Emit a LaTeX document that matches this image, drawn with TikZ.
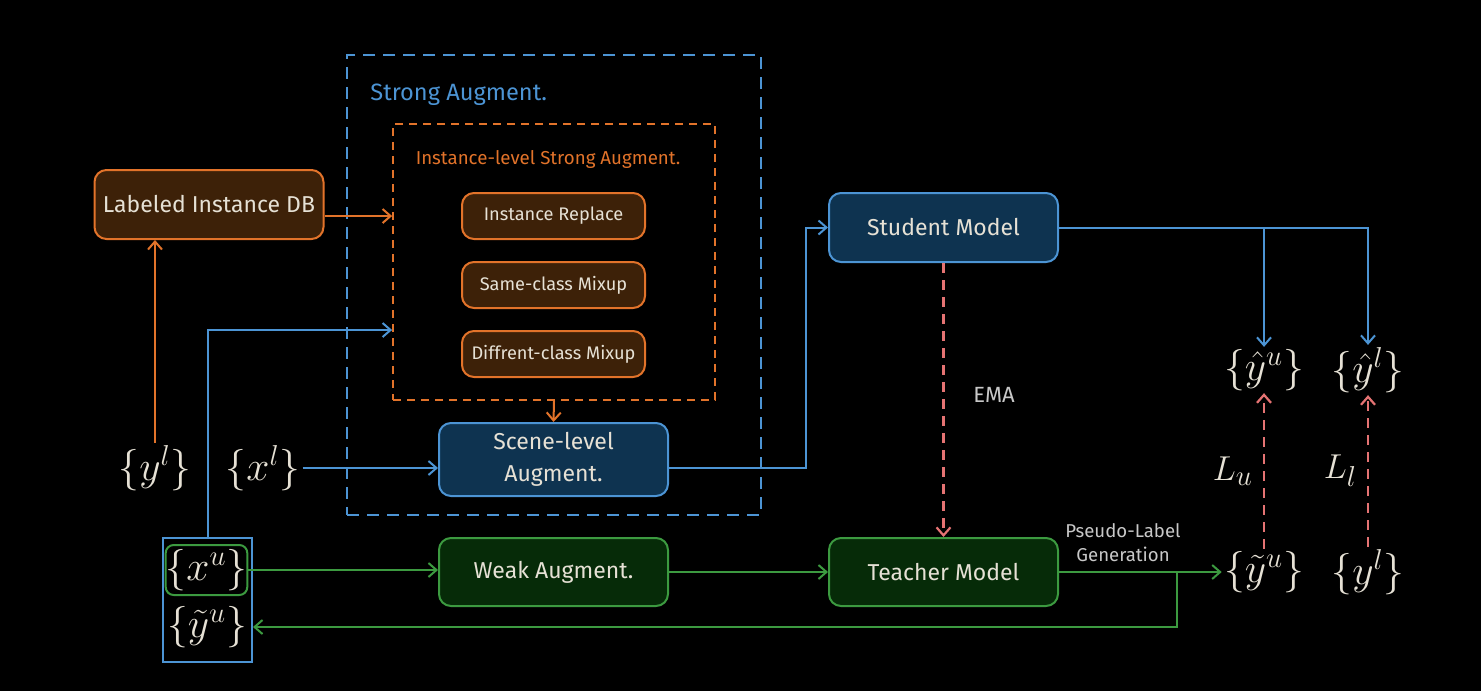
\documentclass[tikz,border=0pt]{standalone}
\usepackage{amsmath}
\usepackage{fontspec}
\setmainfont{Fira Sans}
\usetikzlibrary{arrows.meta, positioning, calc}
\definecolor{orng}{HTML}{E2732A}
\definecolor{orngfill}{HTML}{3D2108}
\definecolor{blu}{HTML}{4C94D4}
\definecolor{blufill}{HTML}{0E3350}
\definecolor{grn}{HTML}{3C9A40}
\definecolor{grnfill}{HTML}{062B08}
\definecolor{redd}{HTML}{E57373}
\definecolor{txt}{HTML}{E6E1D5}
\definecolor{gry}{HTML}{C8C8C8}
\tikzset{%
	box/.style={draw, rectangle, rounded corners=6pt, line width=1pt, text=txt, align=center,%
		minimum width=114.5pt, minimum height=34.5pt, font=\fontsize{11.5}{16}\selectfont},
	obox/.style={box, draw=orng, fill=orngfill},
	bbox/.style={box, draw=blu, fill=blufill},
	gbox/.style={box, draw=grn, fill=grnfill},
	small/.style={obox, minimum width=91.5pt, minimum height=23pt, font=\fontsize{9.1}{11}\selectfont},
	setn/.style={text=txt, inner sep=1pt, font=\fontsize{19.5}{21}\selectfont},
	tip/.style={-{Straight Barb[length=4pt, width=7pt]}},
	oarr/.style={tip, draw=orng, line width=1pt},
	barr/.style={tip, draw=blu, line width=1pt},
	garr/.style={tip, draw=grn, line width=1pt},
	rarr/.style={tip, draw=redd, line width=1.1pt, dash pattern=on 5pt off 3.5pt},
	strongbox/.style={draw=blu, line width=1.2pt, dash pattern=on 6pt off 4pt, minimum width=207pt, minimum height=230pt},
	instbox/.style={draw=orng, line width=0.9pt, dash pattern=on 4pt off 3pt, minimum width=161pt, minimum height=138pt}
}

\begin{document}
\begin{tikzpicture}[x=0.5pt, y=-0.5pt]
	\fill[black] (0,0) rectangle (1481,691);

	% augment boxes
	\node[strongbox] (strong) at (554,285) {};
	\node[text=blu, anchor=west, inner sep=0pt, font=\fontsize{11.8}{13}\selectfont] (strongt) at (370,95) {Strong Augment.};
	\node[instbox] (inst) at (554,262) {};
	\node[text=orng, font=\fontsize{9.35}{11}\selectfont] (instt) at (548,159) {Instance-level Strong Augment.};
	\node[small] (ir) at (553.5,216) {Instance Replace};
	\node[small] (sm) at (553.5,285) {Same-class Mixup};
	\node[small] (dm) at (553.5,354) {Diffrent-class Mixup};
	\node[bbox, minimum height=36.5pt] (scene) at (553.5,459.5) {Scene-level\\Augment.};

	\node[obox] (db) at (209,204.5) {Labeled Instance DB};
	\node[bbox] (student) at (943.5,227.5) {Student Model};
	\node[gbox, minimum height=34pt] (teacher) at (943.5,572) {Teacher Model};
	\node[gbox, minimum height=34pt] (weak) at (553.5,572) {Weak Augment.};

	% sets
	\node[setn] (yl) at (155,468) {$\{y^l\}$};
	\node[setn] (xl) at (263,468) {$\{x^l\}$};
	\node[draw=blu, line width=1pt, minimum width=44.5pt, minimum height=62pt] (ubox) at (207.5,600) {};
	\node[setn, draw=grn, line width=1pt, rounded corners=4pt, minimum width=35.5pt, minimum height=25pt, inner sep=0pt] (xu) at (206.5,570) {$\{x^u\}$};
	\node[setn] (yul) at (207,627) {$\{\tilde{y}^u\}$};
	\node[setn] (yhu) at (1264,370) {$\{\hat{y}^u\}$};
	\node[setn] (yhl) at (1368,370) {$\{\hat{y}^l\}$};
	\node[setn] (ytu) at (1264,572) {$\{\tilde{y}^u\}$};
	\node[setn] (ylr) at (1368,572) {$\{y^l\}$};

	% connectors
	\draw[oarr] (db.east |- ir.west) -- (inst.west |- ir.west);
	\draw[oarr] (yl.north) -- (yl.north |- db.south);
	\draw[barr] (ubox.north) |- (inst.west |- 0,330);
	\draw[barr] (xl.east) -- (scene.west |- xl.east);
	\draw[oarr] (inst.south) -- (scene.north);
	\draw[barr] (scene.east |- xl.east) -- (806,468) |- (student.west);
	\draw[barr] (student.east) -| (yhl.north);
	\draw[barr] (student.east -| yhu.north) -- (yhu.north);
	\draw[rarr] (student.south) -- (teacher.north) node[midway, right=11pt, yshift=2.5pt, text=gry, font=\fontsize{11}{12}\selectfont] (ema) {EMA};
	\draw[rarr] (ytu.north) -- (yhu.south) node[midway, left=4pt, setn, font=\fontsize{19}{20}\selectfont] (lu) {$L_u$};
	\draw[rarr] (ylr.north) -- (yhl.south) node[midway, left=4pt, setn, font=\fontsize{19}{20}\selectfont] (ll) {$L_l$};
	\draw[garr] (xu.east) -- (weak.west |- xu.east);
	\draw[garr] (weak.east) -- (teacher.west);
	\draw[garr] (teacher.east) -- (ytu.west |- teacher.east);
	\node[text=gry, align=center, font=\fontsize{9.3}{12}\selectfont] (pl) at (1123,543) {Pseudo-Label\\Generation};
	\coordinate (fb) at (1177,573);
	\draw[garr] (fb) |- (ubox.east |- yul);
\end{tikzpicture}
\end{document}
